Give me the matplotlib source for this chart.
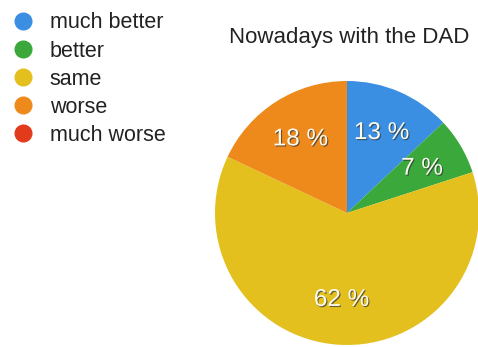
import matplotlib.pyplot as plt
from matplotlib.lines import Line2D
import matplotlib.patheffects as pe

plt.rcParams['font.family'] = ['Liberation Sans', 'DejaVu Sans']

# answers to "Nowadays with the DAD"
categories = ['much better', 'better', 'same', 'worse', 'much worse']
shares = [13, 7, 62, 18, 0]
colors = ['#3a8fe3', '#3aa83a', '#e4c01e', '#ee8a1c', '#e23b1c']

fig = plt.figure(figsize=(4.78, 3.47), dpi=100)

# pie axes, kept square
ax = fig.add_axes([0.4498, 0.0058, 0.5523, 0.7608])
nonzero = [(s, c) for s, c in zip(shares, colors) if s > 0]
wedges, _, autotexts = ax.pie([s for s, _ in nonzero], colors=[c for _, c in nonzero],
                              startangle=90, counterclock=False,
                              autopct=lambda p: '%d %%' % round(p), pctdistance=0.66,
                              wedgeprops=dict(linewidth=0))
for t in autotexts:
    t.set_color('#fbfbf0')
    t.set_fontsize(17.5)
    t.set_path_effects([pe.withSimplePatchShadow(offset=(0.8, -0.8), shadow_rgbFace='#333333', alpha=0.7)])
ax.set_xlim(-1, 1)
ax.set_ylim(-1, 1)
ax.set_aspect('equal')

fig.text(0.731, 0.893, 'Nowadays with the DAD', ha='center', va='center', fontsize=16, color='#222222')

handles = [Line2D([], [], marker='o', linestyle='', markersize=12, markerfacecolor=c,
                  markeredgecolor=c) for c in colors]
fig.legend(handles, categories, loc='upper left', bbox_to_anchor=(0.003, 0.995),
           frameon=False, fontsize=15.5, handletextpad=0.75, labelspacing=0.33,
           borderaxespad=0.1, handlelength=1.0, labelcolor='#222222')

fig.savefig('out.png', dpi=100)
